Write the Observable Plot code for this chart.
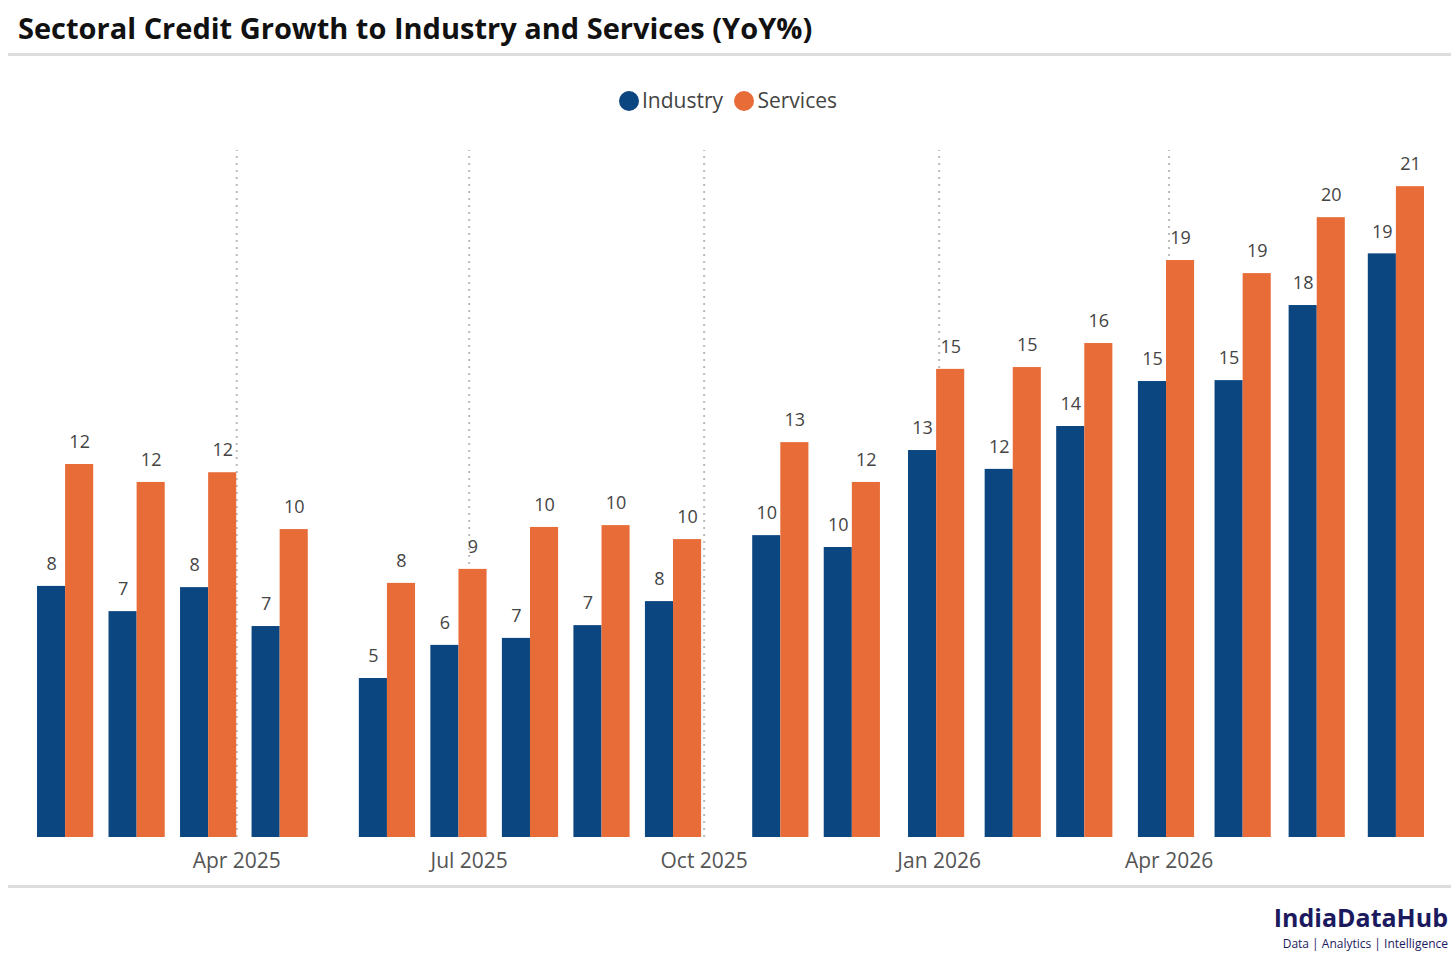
<!DOCTYPE html>
<html><head><meta charset="utf-8">
<script src="https://cdn.jsdelivr.net/npm/d3@7"></script>
<script src="https://cdn.jsdelivr.net/npm/@observablehq/plot@0.6"></script>
<style>
body{margin:0;background:#fff;font-family:"Open Sans",sans-serif;width:1456px;height:963px;position:relative;overflow:hidden}
#title{position:absolute;left:18px;top:8px;font-size:29px;font-weight:700;color:#111}
.hr{position:absolute;left:8px;width:1443px;height:3px;background:#ddd}
#legend{position:absolute;top:86px;width:100%;text-align:center;font-size:21px;color:#444}
.dot{display:inline-block;width:20px;height:20px;border-radius:50%;vertical-align:-3px;margin-right:3px}
#chart{position:absolute;top:130px;left:0}
#logo1{position:absolute;right:8px;top:902px;font-size:25px;font-weight:700;line-height:30px;color:#1c1a5e}
#logo2{position:absolute;right:8px;top:936px;font-size:12px;line-height:16px;color:#1c1a5e}
</style></head><body>
<div id="title">Sectoral Credit Growth to Industry and Services (YoY%)</div>
<div class="hr" style="top:53px"></div>
<div id="legend"><span class="dot" style="background:#0B4680"></span>Industry <span class="dot" style="background:#E86C37;margin-left:6px"></span>Services</div>
<div id="chart"></div>
<div class="hr" style="top:885px"></div>
<div id="logo1">IndiaDataHub</div><div id="logo2">Data | Analytics | Intelligence</div>
<script>
const dates = ["2025-01-24","2025-02-21","2025-03-21","2025-04-18","2025-05-30","2025-06-27","2025-07-25","2025-08-22","2025-09-19","2025-10-31","2025-11-28","2025-12-31","2026-01-30","2026-02-27","2026-03-31","2026-04-30","2026-05-29","2026-06-29"];
const industry = [8.26,7.43,8.22,6.94,5.23,6.32,6.55,6.97,7.76,9.93,9.54,12.73,12.11,13.52,15.0,15.03,17.5,19.2];
const services = [12.27,11.68,12.0,10.13,8.36,8.82,10.2,10.26,9.8,12.99,11.68,15.4,15.46,16.25,18.98,18.55,20.39,21.41];
const ticks = ["2025-04-01","2025-07-01","2025-10-01","2026-01-01","2026-04-01"];
const colors = {Industry:"#0B4680", Services:"#E86C37"};
const data = [];
dates.forEach((d,i)=>{
  const t = new Date(d+"T00:00:00Z");
  data.push({s:"Industry", x1:d3.utcDay.offset(t,-11), x2:t, v:industry[i]});
  data.push({s:"Services", x1:t, x2:d3.utcDay.offset(t,11), v:services[i]});
});
data.forEach(r=>r.xm=new Date((+r.x1 + +r.x2)/2));
const tickDates = ticks.map(d=>new Date(d+"T00:00:00Z"));
const chart = Plot.plot({
  width:1456, height:757, marginTop:20, marginBottom:50, marginLeft:37, marginRight:32,
  style:{fontFamily:"Open Sans", fontSize:"18px", color:"#444", background:"white"},
  x:{type:"utc", domain:[new Date("2025-01-13T00:00:00Z"), new Date("2026-07-10T00:00:00Z")], label:null},
  y:{domain:[0,22.6], axis:null},
  marks:[
    Plot.ruleX(tickDates,{x:d=>d, y1:0, y2:22.6, stroke:"#bbb", strokeWidth:2, strokeDasharray:"2,5"}),
    Plot.rectY(data,{x1:"x1", x2:"x2", y:"v", fill:d=>colors[d.s]}),
    Plot.text(data,{x:"xm", y:"v", text:d=>Math.round(d.v), dy:-22, fill:"#444", fontSize:18}),
    Plot.axisX({ticks:tickDates, tickFormat:d3.utcFormat("%b %Y"), tickSize:0, tickPadding:16, fontSize:21, fill:"#555"})
  ]
});
document.getElementById("chart").appendChild(chart);
</script>
</body></html>
